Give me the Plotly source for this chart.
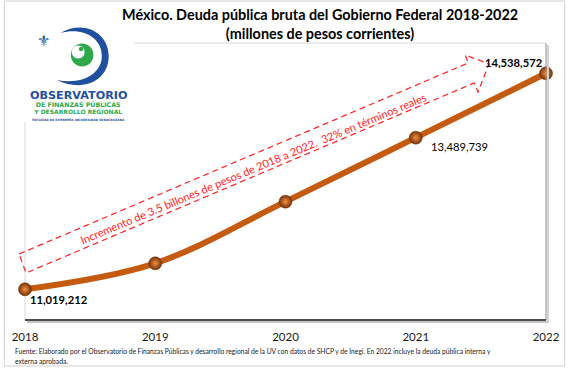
import plotly.graph_objects as go

# ---------------- data ----------------
years = [2018, 2019, 2020, 2021, 2022]
deuda = [11019212, 11443000, 12447000, 13489739, 14538572]
tick_labels = ["2018", "2019", "2020", "2021", "2022"]

title_lines = ["México. Deuda pública bruta del Gobierno Federal 2018-2022",
               "(millones de pesos corrientes)"]
arrow_text = "Incremento de 3.5 billones de pesos de 2018 a 2022.\u00a0 32% en términos reales"
source_lines = [
    "Fuente: Elaborado por el Observatorio de Finanzas Públicas y desarrollo regional de la UV con datos de SHCP y de Inegi. En 2022 incluye la deuda pública interna y",
    "externa aprobada.",
]
logo_lines = ["OBSERVATORIO", "DE FINANZAS PÚBLICAS", "Y DESARROLLO REGIONAL",
              "FACULTAD DE ECONOMÍA UNIVERSIDAD VERACRUZANA"]

# ---------------- geometry helpers ----------------
W_IMG, H_IMG = 572, 368
ML, MR, MT, MB = 22, 21, 43, 48
PW = W_IMG - ML - MR
PH = H_IMG - MT - MB


def px(x):
    return (x - ML) / PW


def py(y):
    return (H_IMG - MB - y) / PH


def pt(x, y):
    return f"{px(x):.5f},{py(y):.5f}"


def ellipse(cx, cy, rx, ry):
    k = 0.5523
    return (f"M {pt(cx + rx, cy)} "
            f"C {pt(cx + rx, cy - k * ry)} {pt(cx + k * rx, cy - ry)} {pt(cx, cy - ry)} "
            f"C {pt(cx - k * rx, cy - ry)} {pt(cx - rx, cy - k * ry)} {pt(cx - rx, cy)} "
            f"C {pt(cx - rx, cy + k * ry)} {pt(cx - k * rx, cy + ry)} {pt(cx, cy + ry)} "
            f"C {pt(cx + k * rx, cy + ry)} {pt(cx + rx, cy + k * ry)} {pt(cx + rx, cy)} Z")


FONT = "Lato, 'Open Sans', sans-serif"
LINE_COLOR = "#C55A11"
BLUE = "#1F4F9E"
GREEN = "#2EA84A"

fig = go.Figure()

fig.add_trace(go.Scatter(
    x=years, y=deuda, mode="lines+markers",
    line=dict(color=LINE_COLOR, width=6, shape="spline", smoothing=1),
    marker=dict(size=13, color="#7A3306",
                gradient=dict(type="radial", color="#EE9144"),
                line=dict(color="#6A2C05", width=0.5)),
    cliponaxis=False, hoverinfo="skip",
))

shapes = []
# plot area frame
shapes.append(dict(type="rect", xref="paper", yref="paper", x0=0, y0=0, x1=1, y1=1,
                   line=dict(color="#D9D9D9", width=1), layer="below"))
# right shadow
shapes.append(dict(type="line", xref="paper", yref="paper", x0=px(553), x1=px(553),
                   y0=py(45), y1=py(322), line=dict(color="#D2D2D2", width=2)))
shapes.append(dict(type="line", xref="paper", yref="paper", x0=px(551), x1=px(551),
                   y0=py(43), y1=py(320), line=dict(color="#A0A0A0", width=1)))
# bottom axis line + shadow
shapes.append(dict(type="line", xref="paper", yref="paper", x0=px(24), x1=px(553),
                   y0=py(322), y1=py(322), line=dict(color="#C4C4C4", width=2)))
shapes.append(dict(type="line", xref="paper", yref="paper", x0=0, x1=px(551),
                   y0=0, y1=0, line=dict(color="#1A1A1A", width=1.5)))
# outer frame
shapes.append(dict(type="rect", xref="paper", yref="paper", x0=px(1), y0=py(366),
                   x1=px(570), y1=py(1), line=dict(color="#D0D0D0", width=1), layer="below"))

# dashed block arrow
arrow_pts = [(16, 254), (472, 63), (469, 55), (493, 64), (482, 92), (478, 83), (23, 273)]
arrow_path = "M " + " L ".join(pt(x, y) for x, y in arrow_pts) + " Z"
shapes.append(dict(type="path", xref="paper", yref="paper", path=arrow_path,
                   line=dict(color="#FF1F1F", width=1.2, dash="6px,4px")))

# logo background
shapes.append(dict(type="rect", xref="paper", yref="paper", x0=px(15), y0=py(122),
                   x1=px(133), y1=py(30), fillcolor="white", line=dict(width=0)))
# logo eye crescent
eye = (f"M {pt(58, 33)} C {pt(82, 19)} {pt(107, 33)} {pt(107, 56)} "
       f"C {pt(107, 80)} {pt(82, 93)} {pt(54, 80)} "
       f"C {pt(80, 85)} {pt(100, 74)} {pt(100, 56)} "
       f"C {pt(100, 37)} {pt(80, 27)} {pt(58, 33)} Z")
shapes.append(dict(type="path", xref="paper", yref="paper", path=eye,
                   fillcolor=BLUE, line=dict(width=0)))
shapes.append(dict(type="path", xref="paper", yref="paper", path=ellipse(80, 55, 11.5, 11.5),
                   fillcolor=GREEN, line=dict(width=0)))
shapes.append(dict(type="path", xref="paper", yref="paper", path=ellipse(76, 52, 6.5, 6.5),
                   fillcolor="white", line=dict(width=0)))
shapes.append(dict(type="path", xref="paper", yref="paper", path=ellipse(79, 49, 2.3, 2.3),
                   fillcolor=GREEN, line=dict(width=0)))

annotations = []
# title
annotations.append(dict(xref="paper", yref="paper", x=px(322), y=py(24),
                        text="<br>".join(f"<b>{t}</b>" for t in title_lines),
                        showarrow=False, font=dict(family=FONT, size=14.4, color="#000000"),
                        xanchor="center", yanchor="middle", align="center"))

# data labels
label_cfg = {2018: dict(xanchor="left", yanchor="middle", xshift=3, yshift=-10, bold=True),
             2021: dict(xanchor="left", yanchor="middle", xshift=13, yshift=-8.5, bold=False),
             2022: dict(xanchor="right", yanchor="middle", xshift=-2, yshift=11, bold=True)}
for yr, val in zip(years, deuda):
    if yr in label_cfg:
        c = label_cfg[yr]
        txt = f"{val:,}"
        if c["bold"]:
            txt = f"<b>{txt}</b>"
        annotations.append(dict(x=yr, y=val, xref="x", yref="y", text=txt, showarrow=False,
                                xanchor=c["xanchor"], yanchor=c["yanchor"],
                                xshift=c["xshift"], yshift=c["yshift"],
                                font=dict(family=FONT, size=11.2, color="#000000")))

# arrow text
annotations.append(dict(xref="paper", yref="paper", x=px(253), y=py(168), text=arrow_text,
                        showarrow=False, textangle=-22.7,
                        font=dict(family=FONT, size=11, color="#FF2020"),
                        xanchor="center", yanchor="middle"))

# source lines
for i, line in enumerate(source_lines):
    annotations.append(dict(xref="paper", yref="paper", x=px(10), y=py(351 + 10 * i), text=line,
                            showarrow=False, xanchor="left", yanchor="middle",
                            font=dict(family=FONT, size=6.7, color="#1A1A1A")))

# logo texts
annotations.append(dict(xref="paper", yref="paper", x=px(41), y=py(41), text="⚜",
                        showarrow=False, font=dict(family="DejaVu Sans", size=15, color=BLUE),
                        xanchor="center", yanchor="middle"))
annotations.append(dict(xref="paper", yref="paper", x=px(76), y=py(95.5),
                        text=f"<b>{logo_lines[0]}</b>", showarrow=False,
                        xanchor="center", yanchor="middle", borderpad=0,
                        font=dict(family="DejaVu Sans", size=11.2, color=BLUE)))
logo_sizes = [6.3, 6.0, 3.0]
logo_colors = [GREEN, GREEN, BLUE]
logo_html = "<br>".join(
    f"<span style='font-size:{s}px;color:{c}'><b>{t}</b></span>"
    for t, s, c in zip(logo_lines[1:], logo_sizes, logo_colors))
annotations.append(dict(xref="paper", yref="paper", x=px(76), y=py(111.6), text=logo_html,
                        showarrow=False, xanchor="center", yanchor="middle", align="center",
                        borderpad=0, font=dict(family="DejaVu Sans", size=5.2, color=BLUE)))

fig.update_layout(
    width=W_IMG, height=H_IMG,
    margin=dict(l=ML, r=MR, t=MT, b=MB),
    paper_bgcolor="white", plot_bgcolor="white",
    showlegend=False,
    shapes=shapes, annotations=annotations,
    xaxis=dict(range=[2018, 2022], tickvals=years, ticktext=tick_labels,
               showgrid=False, zeroline=False, showline=False,
               ticks="outside", ticklen=6, tickcolor="rgba(0,0,0,0)",
               tickfont=dict(family=FONT, size=11.5, color="#1A1A1A")),
    yaxis=dict(range=[10519000, 15032000], visible=False, showgrid=False, zeroline=False),
)

fig.write_html("out.html", config={"displayModeBar": False},
               post_script="document.body.style.margin='0px';document.body.style.overflow='hidden';")
